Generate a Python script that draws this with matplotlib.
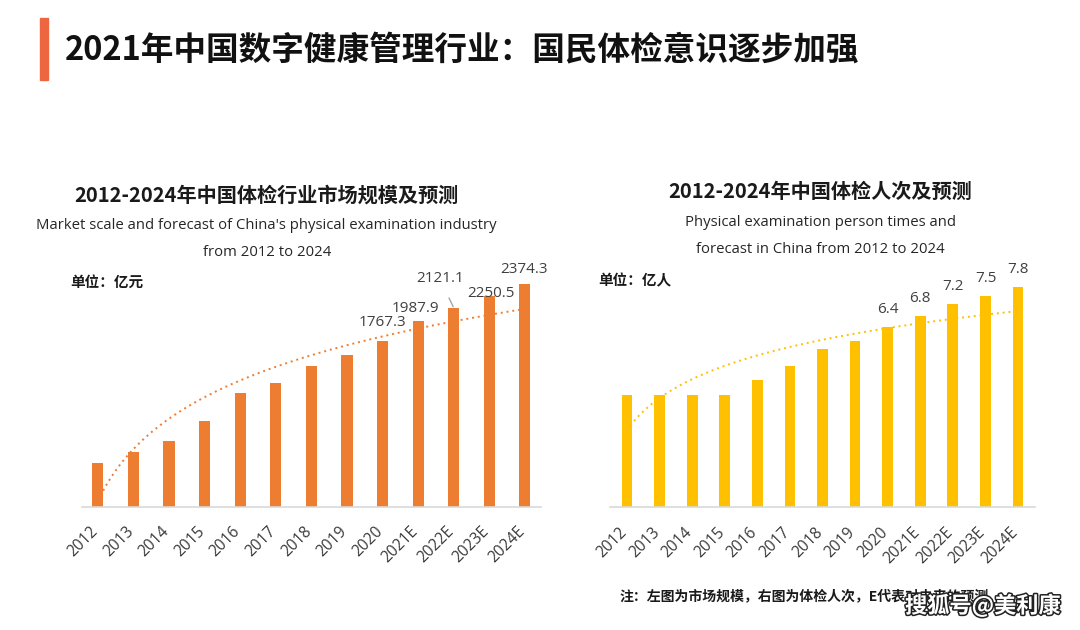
import numpy as np
import matplotlib
matplotlib.use("Agg")
import matplotlib.pyplot as plt
import matplotlib.patheffects as pe
from matplotlib.patches import Rectangle
from matplotlib.transforms import ScaledTranslation

plt.rcParams['font.family'] = ['Noto Sans CJK SC', 'DejaVu Sans']

years = ["2012", "2013", "2014", "2015", "2016", "2017", "2018", "2019",
         "2020", "2021E", "2022E", "2023E", "2024E"]
market_scale = [469, 586, 708, 917, 1215, 1322, 1503, 1620,
                1767.3, 1987.9, 2121.1, 2250.5, 2374.3]
exam_persons = [4.0, 4.0, 4.0, 4.0, 4.5, 5.0, 5.6, 5.9,
                6.4, 6.8, 7.2, 7.5, 7.8]
left_labels_from = 8   # labels shown from 2020 on
right_labels_from = 8

W, H = 1080, 630
fig = plt.figure(figsize=(W / 100, H / 100), dpi=100)
fig.patch.set_facecolor("white")

def fx(px):
    return px / W

def fy(py):
    return 1 - py / H

# Title
fig.patches.append(Rectangle((fx(40), fy(80)), fx(8), 62 / H,
                             transform=fig.transFigure, color="#EE6640"))
fig.text(fx(65), fy(50), "2021年中国数字健康管理行业：国民体检意识逐步加强",
         fontsize=23.5, weight="bold", color="#111111", va="center", ha="left")

ORANGE = "#ED7D31"
GOLD = "#FFC000"
LBL = "#404040"

def trend(ax, vals, color):
    x = np.arange(len(vals))
    coef = np.polyfit(np.log(x + 1), vals, 1)
    xs = np.linspace(0, len(vals) - 1, 200)
    ax.plot(xs, coef[0] * np.log(xs + 1) + coef[1], linestyle=(0, (1, 2)),
            color=color, lw=1.4, zorder=3)

def style_axes(ax, xlim):
    x = np.arange(len(years))
    ax.set_xlim(*xlim)
    ax.set_xticks(x)
    ax.set_xticklabels(years, rotation=45, ha="right", rotation_mode="anchor",
                       fontsize=11.2, color="#3a3a3a", family=["Open Sans", "DejaVu Sans"])
    ax.tick_params(axis="x", length=0, pad=12)
    shift = ScaledTranslation(-8 / 100, 0, fig.dpi_scale_trans)
    for lab in ax.get_xticklabels():
        lab.set_transform(lab.get_transform() + shift)
    ax.set_yticks([])
    for s in ["top", "right", "left"]:
        ax.spines[s].set_visible(False)
    ax.spines["bottom"].set_color("#D9D9D9")
    ax.spines["bottom"].set_linewidth(1.2)
    ax.set_facecolor("none")

# Left chart
axL = fig.add_axes([fx(81.8), 123 / H, fx(459.2), 243.9 / H])
xL = np.arange(len(years))
axL.bar(xL, market_scale, width=0.31, color=ORANGE, zorder=2)
axL.set_ylim(0, 2600)
trend(axL, market_scale, ORANGE)
style_axes(axL, (-0.45, 12.45))
left_offsets = {8: (0, 13.5), 9: (-2, 9), 10: (-10, 21), 11: (1, 1.7), 12: (-1, 10.5)}
for i in range(left_labels_from, len(years)):
    dx, dy = left_offsets[i]
    kw = {}
    if i == 10:
        kw["arrowprops"] = dict(arrowstyle="-", color="#A6A6A6", lw=1,
                                shrinkA=7, shrinkB=1)
    axL.annotate(f"{market_scale[i]:.1f}", xy=(xL[i], market_scale[i]),
                 xytext=(dx, dy), textcoords="offset points", ha="center",
                 va="center", fontsize=11, color=LBL,
                 family=["Open Sans", "DejaVu Sans"], zorder=4, **kw)

# Right chart
axR = fig.add_axes([fx(610), (H - 507.3) / H, fx(425), 239.7 / H])
xR = np.arange(len(years))
axR.bar(xR, exam_persons, width=0.33, color=GOLD, zorder=2)
axR.set_ylim(0, 8.5)
trend(axR, exam_persons, GOLD)
style_axes(axR, (-0.52, 12.52))
for i in range(right_labels_from, len(years)):
    axR.annotate(f"{exam_persons[i]:.1f}", xy=(xR[i], exam_persons[i]),
                 xytext=(0, 12.5), textcoords="offset points", ha="center",
                 va="center", fontsize=11, color=LBL,
                 family=["Open Sans", "DejaVu Sans"], zorder=4)

# Chart titles
fig.text(fx(266.7), fy(195), "2012-2024年中国体检行业市场规模及预测",
         fontsize=14.5, weight="bold", ha="center", va="center", color="#1a1a1a")
fig.text(fx(266.7), fy(225), "Market scale and forecast of China's physical examination industry",
         fontsize=10.7, ha="center", va="center", color="#262626",
         family=["Open Sans", "DejaVu Sans"])
fig.text(fx(266.7), fy(252), "from 2012 to 2024",
         fontsize=10.7, ha="center", va="center", color="#262626",
         family=["Open Sans", "DejaVu Sans"])
fig.text(fx(70), fy(282), "单位：亿元", fontsize=10.5, weight="bold",
         ha="left", va="center", color="#1a1a1a")

fig.text(fx(820.5), fy(191), "2012-2024年中国体检人次及预测",
         fontsize=14.5, weight="bold", ha="center", va="center", color="#1a1a1a")
fig.text(fx(820.5), fy(222), "Physical examination person times and",
         fontsize=10.7, ha="center", va="center", color="#262626",
         family=["Open Sans", "DejaVu Sans"])
fig.text(fx(820.5), fy(250), "forecast in China from 2012 to 2024",
         fontsize=10.7, ha="center", va="center", color="#262626",
         family=["Open Sans", "DejaVu Sans"])
fig.text(fx(598), fy(280), "单位：亿人", fontsize=10.5, weight="bold",
         ha="left", va="center", color="#1a1a1a")

# Footnote
fig.text(fx(619), fy(596), "注：左图为市场规模，右图为体检人次，E代表对未来的预测",
         fontsize=10, weight="bold", ha="left", va="center", color="#1a1a1a")

# Watermark
fig.text(fx(905), fy(606), "搜狐号@美利康", fontsize=16, weight="bold",
         ha="left", va="center", color="white",
         path_effects=[pe.withStroke(linewidth=2.2, foreground="#222222")])

fig.savefig("out.png", dpi=100, facecolor="white")
